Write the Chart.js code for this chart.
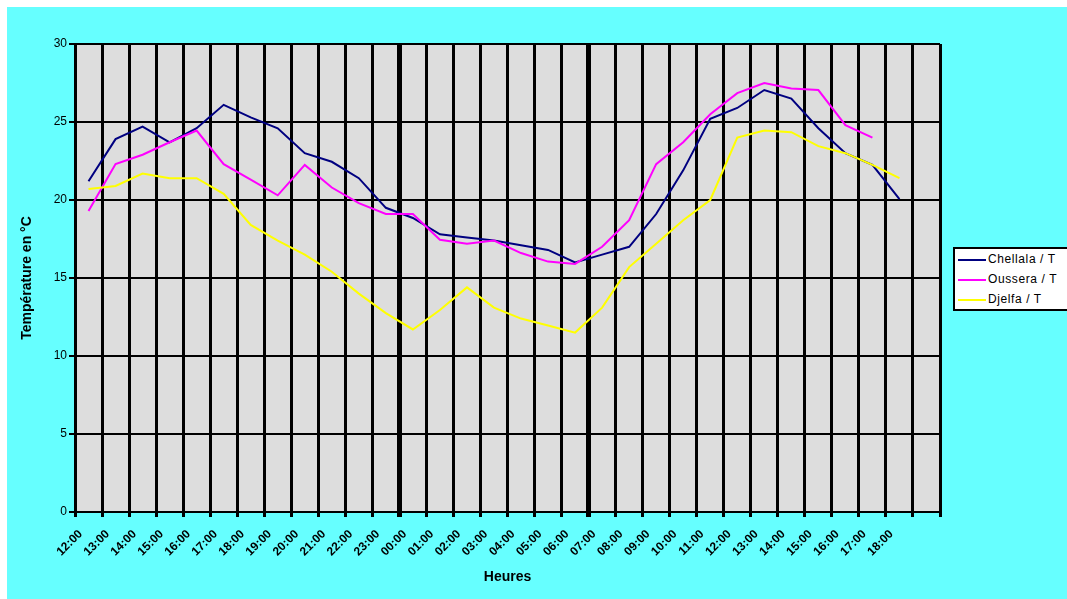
<!DOCTYPE html>
<html lang="fr">
<head>
<meta charset="UTF-8">
<title>Températures</title>
<script src="https://cdn.jsdelivr.net/npm/chart.js@4.4.0/dist/chart.umd.min.js"></script>
<style>
    html, body { margin: 0; padding: 0; background: #fff; overflow: hidden; }
    #wrap { position: relative; width: 1067px; height: 599px; }
    #legend {
        position: absolute; left: 953px; top: 247px; width: 130px; height: 60px;
        border: 2px solid #000; background: #fff;
        font: 12px "Liberation Sans", Arial, sans-serif; color: #000; letter-spacing: 0.6px;
    }
    #legend .row { position: absolute; left: 3px; height: 14px; line-height: 14px; white-space: nowrap; }
    #legend .swatch { display: inline-block; width: 28px; height: 2px; vertical-align: middle; margin-right: 2px; }
</style>
</head>
<body>
<div id="wrap">
    <canvas id="tempChart" width="1067" height="599"></canvas>
    <div id="legend"></div>
</div>
<script>
    // heures (la derniere categorie reste vide)
    const hours = ['12:00', '13:00', '14:00', '15:00', '16:00', '17:00', '18:00', '19:00', '20:00', '21:00',
        '22:00', '23:00', '00:00', '01:00', '02:00', '03:00', '04:00', '05:00', '06:00', '07:00', '08:00',
        '09:00', '10:00', '11:00', '12:00', '13:00', '14:00', '15:00', '16:00', '17:00', '18:00', ''];

    const chellala = [21.2, 23.9, 24.7, 23.7, 24.6, 26.1, 25.3, 24.6, 23.0, 22.45, 21.4, 19.5, 18.85, 17.8,
        17.6, 17.4, 17.1, 16.8, 16.0, 16.5, 17.0, 19.1, 21.9, 25.2, 25.9, 27.05, 26.5, 24.6, 23.0, 22.25, 20.05, null];

    const oussera = [19.3, 22.3, 22.9, 23.7, 24.45, 22.3, 21.3, 20.3, 22.25, 20.8, 19.8, 19.1, 19.1, 17.45,
        17.2, 17.4, 16.6, 16.05, 15.9, 17.0, 18.7, 22.3, 23.7, 25.5, 26.85, 27.5, 27.15, 27.05, 24.8, 24.0, null, null];

    const djelfa = [20.7, 20.9, 21.7, 21.4, 21.4, 20.4, 18.4, 17.4, 16.5, 15.4, 14.0, 12.75, 11.7, 12.95,
        14.4, 13.1, 12.4, 11.95, 11.5, 13.1, 15.7, 17.2, 18.7, 20.0, 24.0, 24.45, 24.35, 23.45, 23.0, 22.25, 21.4, null];

    const seriesNames = ['Chellala / T', 'Oussera / T', 'Djelfa / T'];
    const seriesColors = ['#000080', '#ff00ff', '#ffff00'];

    const yTicks = [0, 5, 10, 15, 20, 25, 30];

    const font = '"Liberation Sans", Arial, sans-serif';

    // fond cyan + zone de tracé grise
    const background = {
        id: 'background',
        beforeDraw(chart) {
            const { ctx, chartArea: a } = chart;
            ctx.save();
            ctx.fillStyle = '#ffffff';
            ctx.fillRect(0, 0, chart.width, chart.height);
            ctx.fillStyle = '#66ffff';
            ctx.fillRect(7, 7, chart.width - 7, chart.height - 7);
            ctx.fillStyle = '#dddddd';
            ctx.fillRect(a.left, a.top, a.right - a.left, a.bottom - a.top);
            ctx.restore();
        }
    };

    const datasets = [chellala, oussera, djelfa].map((values, i) => ({
        label: seriesNames[i],
        data: values,
        borderColor: seriesColors[i],
        backgroundColor: seriesColors[i],
        borderWidth: 2,
        pointRadius: 0,
        tension: 0,
        order: 3 - i
    }));

    new Chart(document.getElementById('tempChart'), {
        type: 'line',
        data: { labels: hours, datasets: datasets },
        plugins: [background],
        options: {
            responsive: false,
            animation: false,
            devicePixelRatio: 1,
            layout: { padding: { top: 44, right: 127, left: 0, bottom: 0 } },
            plugins: {
                legend: { display: false },
                tooltip: { enabled: false }
            },
            scales: {
                x: {
                    type: 'category',
                    offset: true,
                    grid: {
                        offset: true,
                        color: '#000',
                        lineWidth: ctx => (ctx.index === 12 || ctx.index === 19) ? 5 : 3,
                        tickLength: 5
                    },
                    border: { color: '#000', width: 2 },
                    ticks: {
                        autoSkip: false,
                        minRotation: 45,
                        maxRotation: 45,
                        padding: 10,
                        labelOffset: -8,
                        color: '#000',
                        font: { family: font, size: 12, weight: 'bold' }
                    },
                    title: {
                        display: true,
                        text: 'Heures',
                        color: '#000',
                        font: { family: font, size: 14, weight: 'bold' },
                        padding: { top: 0, bottom: 13 }
                    },
                    afterFit(scale) { scale.height = 87; }
                },
                y: {
                    min: 0,
                    max: 30,
                    afterBuildTicks(scale) { scale.ticks = yTicks.map(v => ({ value: v })); },
                    grid: { color: '#000', lineWidth: 2, tickLength: 6 },
                    border: { color: '#000', width: 2 },
                    ticks: {
                        padding: 2,
                        color: '#000',
                        font: { family: font, size: 12 }
                    },
                    title: {
                        display: true,
                        text: 'Température en °C',
                        color: '#000',
                        font: { family: font, size: 14, weight: 'bold' },
                        padding: { top: 19, bottom: 0 }
                    },
                    afterFit(scale) { scale.width = 75; }
                }
            }
        }
    });

    // legende
    const legend = document.getElementById('legend');
    seriesNames.forEach((name, i) => {
        const row = document.createElement('div');
        row.className = 'row';
        row.style.top = (3 + i * 20) + 'px';
        row.innerHTML = `<span class="swatch" style="background:${seriesColors[i]}"></span>${name}`;
        legend.appendChild(row);
    });
</script>
</body>
</html>
